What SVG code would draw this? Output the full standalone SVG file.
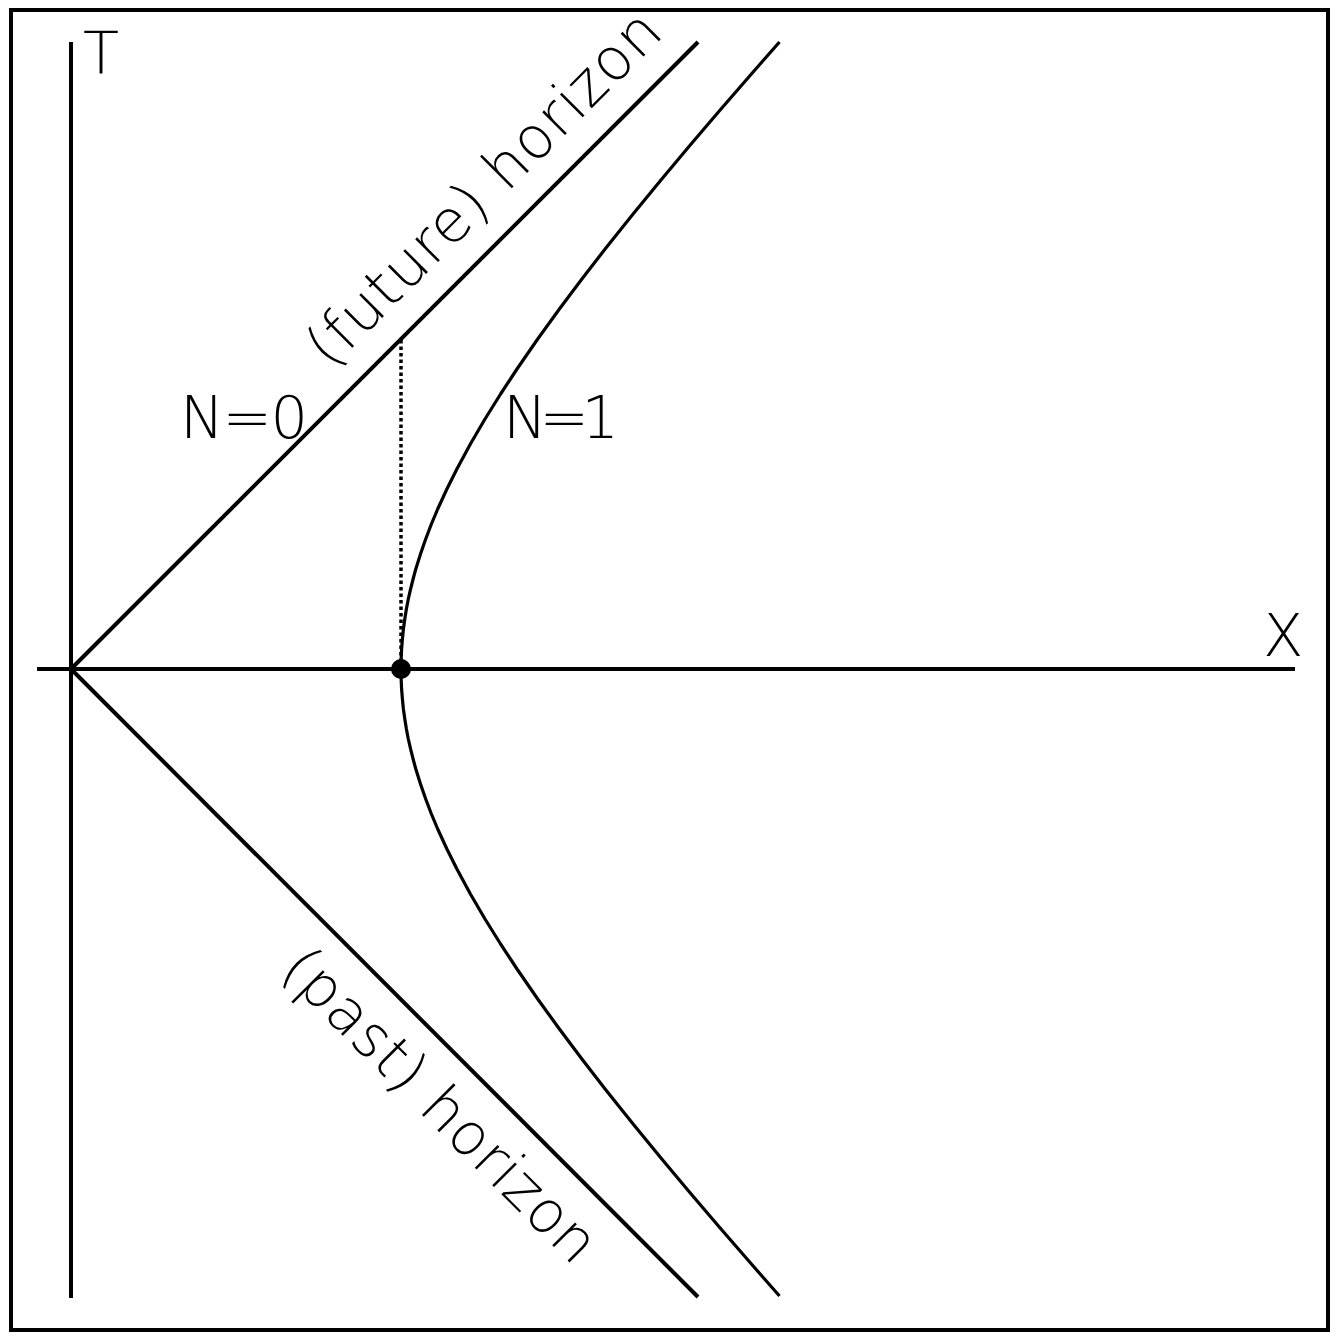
<svg xmlns="http://www.w3.org/2000/svg" width="1336" height="1340" viewBox="0 0 1336 1340">
<style>
.ln{fill:none;stroke:#000;stroke-width:4;stroke-linecap:butt}
.hy{fill:none;stroke:#000;stroke-width:3.2;stroke-linejoin:round}
.lbl{font-family:"DejaVu Sans","Liberation Sans",sans-serif;font-weight:200;font-size:59px;fill:#000}
</style>
<rect x="0" y="0" width="1336" height="1340" fill="#fff"/>
<rect x="11" y="10" width="1317" height="1320" fill="none" stroke="#000" stroke-width="4"/>
<g id="connectors">
<line class="ln" x1="71" y1="42" x2="71" y2="1298" stroke-width="5"/>
<line class="ln" x1="37" y1="669" x2="1295" y2="669"/>
<line class="ln" x1="71" y1="669" x2="698" y2="42"/>
<line class="ln" x1="71" y1="669" x2="698" y2="1297"/>
<line x1="401" y1="340" x2="401" y2="662" stroke="#000" stroke-width="3.5" stroke-dasharray="3.5,3"/>
<polyline class="hy" points="779.5,42 751.4,74 721.0,109 691.1,144 661.8,179 633.1,214 605.1,249 581.9,279 559.4,309 537.7,339 517.0,369 500.6,394 485.0,419 470.4,444 456.9,469 446.9,489 437.7,509 431.4,524 425.7,539 420.5,554 415.8,569 413.1,579 410.6,589 408.3,599 406.4,609 404.8,619 403.4,629 402.4,639 401.6,649 401.15,659 401,669 401.15,679 401.6,689 402.4,699 403.4,709 404.8,719 406.4,729 408.3,739 410.6,749 413.1,759 415.8,769 420.5,784 425.7,799 431.4,814 437.7,829 446.9,849 456.9,869 470.4,894 485.0,919 500.6,944 517.0,969 537.7,999 559.4,1029 581.9,1059 605.1,1089 633.1,1124 661.8,1159 691.1,1194 721.0,1229 751.4,1264 779.5,1296"/>
</g>
<g id="event">
<circle cx="401" cy="669" r="10" fill="#000"/>
</g>
<g id="label-T"><text class="lbl" x="83" y="74">T</text></g>
<g id="label-X"><text class="lbl" x="1263" y="656">X</text></g>
<g id="label-N0"><text class="lbl" x="180" y="438" textLength="128" lengthAdjust="spacing">N=0</text></g>
<g id="label-N1"><text class="lbl" x="503" y="438" textLength="116" lengthAdjust="spacing">N=1</text></g>
<g id="label-future"><text class="lbl" transform="translate(330,370) rotate(-45)" x="0" y="0" textLength="474" lengthAdjust="spacing">(future) horizon</text></g>
<g id="label-past"><text class="lbl" transform="translate(278.5,971.5) rotate(45)" x="0" y="0" textLength="418" lengthAdjust="spacing">(past) horizon</text></g>
</svg>
